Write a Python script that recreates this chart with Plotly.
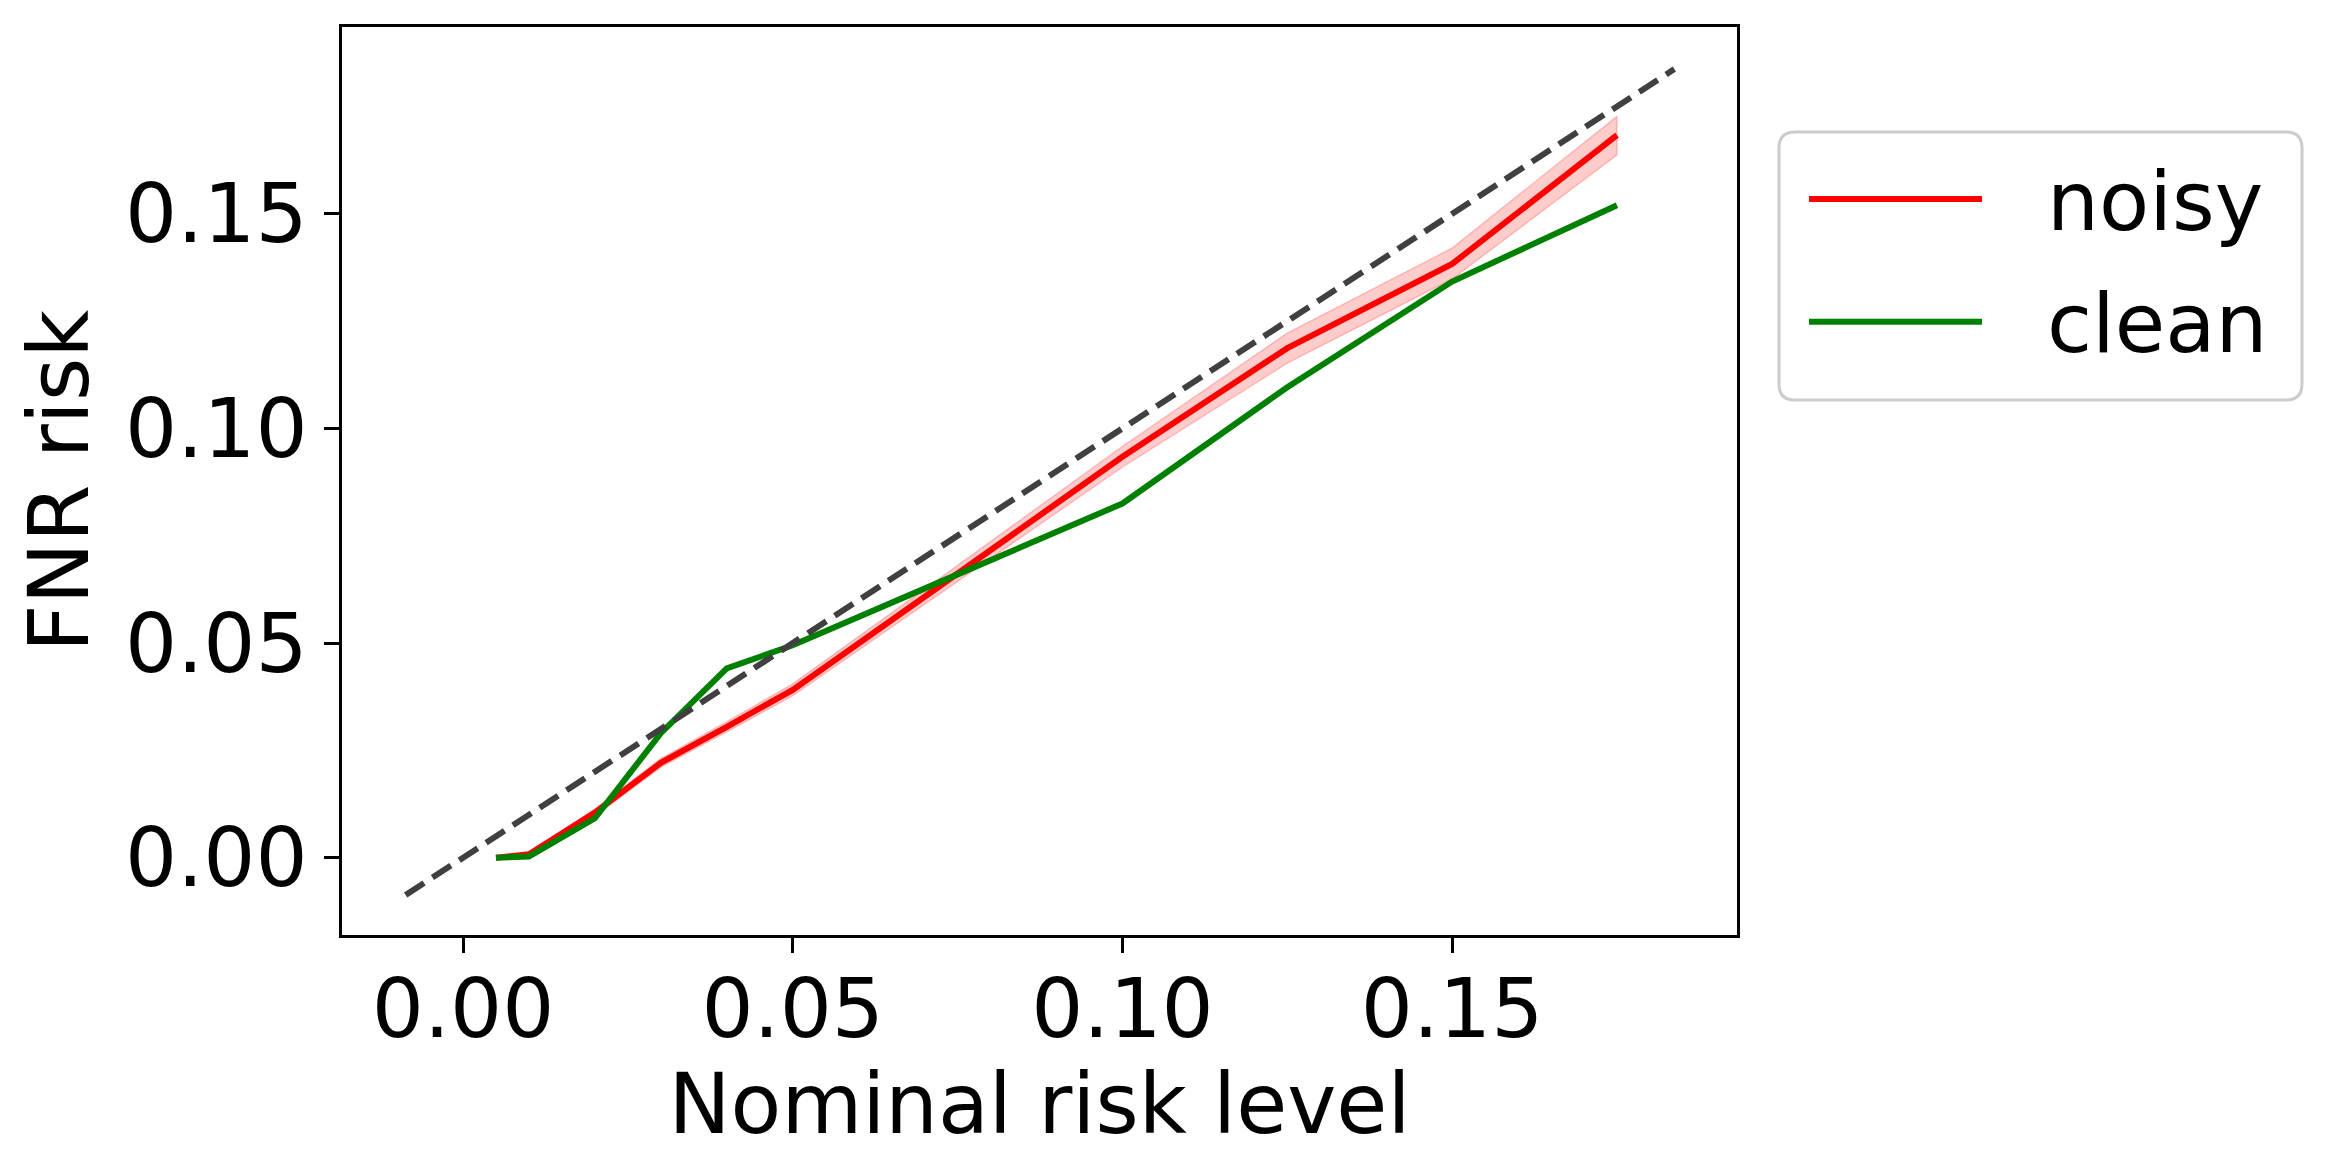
import plotly.graph_objects as go

# ---- data ----
nominal = [0.005, 0.01, 0.02, 0.03, 0.04, 0.05, 0.075, 0.1, 0.125, 0.15, 0.175]
noisy_mean = [0.0, 0.0008, 0.0105, 0.0221, 0.0305, 0.0391, 0.0662, 0.0934, 0.1187, 0.1383, 0.1683]
noisy_lower = [-0.0002, 0.0004, 0.0097, 0.0211, 0.0293, 0.0377, 0.0643, 0.0910, 0.1152, 0.1348, 0.1637]
noisy_upper = [0.0002, 0.0012, 0.0113, 0.0231, 0.0317, 0.0405, 0.0681, 0.0958, 0.1222, 0.1420, 0.1727]
clean_mean = [0.0, 0.0003, 0.0092, 0.0290, 0.0441, 0.0495, 0.0660, 0.0825, 0.1096, 0.1342, 0.1520]
diag = [-0.0087, 0.1837]
tick_vals = [0.0, 0.05, 0.10, 0.15]
tick_text = ["0.00", "0.05", "0.10", "0.15"]
series_names = ["noisy", "clean"]
series_colors = ["#ff0000", "#008000"]

FONT = "DejaVu Sans"
FS = 82
FS_TITLE = 83
LW = 6

fig = go.Figure()

fig.add_trace(go.Scatter(
    x=nominal + nominal[::-1], y=noisy_upper + noisy_lower[::-1],
    fill="toself", fillcolor="rgba(255,0,0,0.2)",
    line=dict(color="rgba(255,0,0,0.2)", width=1.5),
    mode="lines", showlegend=False, hoverinfo="skip"))
fig.add_trace(go.Scatter(x=nominal, y=noisy_mean, mode="lines", name=series_names[0],
                         line=dict(color=series_colors[0], width=LW), showlegend=False))
fig.add_trace(go.Scatter(x=nominal, y=clean_mean, mode="lines", name=series_names[1],
                         line=dict(color=series_colors[1], width=LW), showlegend=False))
fig.add_trace(go.Scatter(x=diag, y=diag, mode="lines", showlegend=False,
                         line=dict(color="#404040", width=LW, dash="22px,10px")))

# plot area in screenshot pixels: left 342, right 1737, top 27, bottom 935
L, R, T, B = 342, 1737, 27, 935
W, H = R - L, B - T
OFF = 8  # default page body margin
def px(x):
    return (x - L) / W
def py(y):
    return (B - y) / H

# manual legend (matplotlib-like with long sample lines)
x0, x1, y0, y1 = px(1779), px(2302), py(132), py(400)
rx, ry = 16 / W, 16 / H
path = (f"M {x0+rx},{y0} L {x1-rx},{y0} Q {x1},{y0} {x1},{y0-ry} "
        f"L {x1},{y1+ry} Q {x1},{y1} {x1-rx},{y1} L {x0+rx},{y1} "
        f"Q {x0},{y1} {x0},{y1+ry} L {x0},{y0-ry} Q {x0},{y0} {x0+rx},{y0} Z")
shapes = [dict(type="path", path=path, xref="paper", yref="paper",
               line=dict(color="#cccccc", width=3), fillcolor="rgba(255,255,255,0.8)", layer="above")]
annotations = []
row_y = [199, 321.7]
for nm, col, ry_px in zip(series_names, series_colors, row_y):
    yy = py(ry_px)
    shapes.append(dict(type="line", xref="paper", yref="paper", x0=px(1809), x1=px(1982),
                       y0=yy, y1=yy, line=dict(color=col, width=LW), layer="above"))
    annotations.append(dict(text=nm, xref="paper", yref="paper", x=px(2045), y=py(ry_px + 2),
                            xanchor="left", yanchor="middle", showarrow=False,
                            font=dict(family=FONT, size=FS, color="black")))

axis_common = dict(showline=True, linecolor="black", linewidth=3, mirror=True,
                   ticks="outside", ticklen=15, tickwidth=3, tickcolor="black",
                   showgrid=False, zeroline=False,
                   tickfont=dict(family=FONT, size=FS, color="black"),
                   tickvals=tick_vals, ticktext=tick_text)

fig.update_layout(
    width=2333, height=1173,
    margin=dict(l=L - OFF, r=2333 - R + OFF, t=T - OFF, b=1173 - B + OFF, pad=0),
    paper_bgcolor="white", plot_bgcolor="white",
    font=dict(family=FONT, size=FS, color="black"),
    xaxis=dict(range=[-0.01835, 0.1932], ticklabelstandoff=-14,
               title=dict(text="Nominal risk level", font=dict(family=FONT, size=FS_TITLE), standoff=8),
               **axis_common),
    yaxis=dict(range=[-0.0180, 0.1935],
               title=dict(text="FNR risk", font=dict(family=FONT, size=FS_TITLE), standoff=9),
               **axis_common),
    shapes=shapes, annotations=annotations, showlegend=False,
)

fig.write_html("out.html")
